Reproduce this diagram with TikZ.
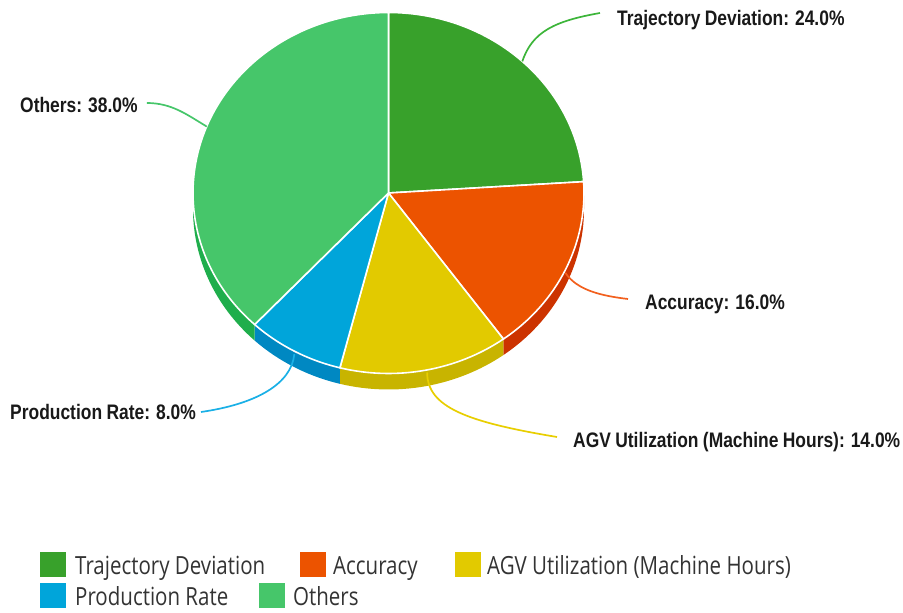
\documentclass[tikz,border=0pt]{standalone}
\usepackage{fontspec}
\usetikzlibrary{calc}
\newfontfamily\lblfont{Liberation Sans Bold}[FakeStretch=0.83,WordSpace=0.9]
\newfontfamily\legfont{Open Sans}[FakeStretch=0.82]

\definecolor{cTD}{HTML}{38A12B}
\definecolor{cAC}{HTML}{EC5300}
\definecolor{cAG}{HTML}{E2CA00}
\definecolor{cPR}{HTML}{00A5DA}
\definecolor{cOT}{HTML}{46C66A}
\definecolor{sAC}{HTML}{CC3300}
\definecolor{sAG}{HTML}{C8B400}
\definecolor{sPR}{HTML}{0088C2}
\definecolor{sOT}{HTML}{1FAE4C}
\definecolor{lTD}{HTML}{3DB53A}
\definecolor{lAC}{HTML}{F2601E}
\definecolor{lAG}{HTML}{E8CE00}
\definecolor{lPR}{HTML}{1AB0E6}
\definecolor{lOT}{HTML}{46C66A}

% pie geometry
\def\cx{388.5}
\def\cy{420}
\def\dep{16}

% side band of a slice between two angles (lower half only)
\newcommand\sidepiece[3]{%
  \fill[#3] (\cx,\cy) ++(#1:195.5pt and 180.5pt)
    arc[start angle=#1,end angle=#2,x radius=195.5pt,y radius=180.5pt]
    -- ++(0,-\dep)
    arc[start angle=#2,end angle=#1,x radius=195.5pt,y radius=180.5pt] -- cycle;}
% top face of a slice
\newcommand\slicetop[3]{%
  \filldraw[topface,fill=#3] (\cx,\cy) -- ++(#1:195.5pt and 180.5pt)
    arc[start angle=#1,end angle=#2,x radius=195.5pt,y radius=180.5pt] -- cycle;}
% point on the rim at a given angle
\newcommand\rimpoint[3]{%
  \path (\cx,\cy) ++(#1:195.5pt and 180.5pt) ++(#2) coordinate (#3);}

\begin{document}
\begin{tikzpicture}[x=1pt,y=1pt,
  lbl/.style={font=\lblfont\fontsize{21}{24}\selectfont,text=black!90,inner sep=0pt},
  leg/.style={font=\legfont\fontsize{25}{28}\selectfont,text=black!80,inner sep=0pt,anchor=base west},
  swatch/.style={minimum width=26pt,minimum height=25pt,inner sep=0pt,anchor=north west},
  leader/.style={line width=1.7pt},
  topface/.style={draw=white,line width=1.6pt,line join=round},
]
\useasboundingbox (0,0) rectangle (903,613);

% extruded sides
\sidepiece{-54}{0}{sAC}
\sidepiece{-104.4}{-54}{sAG}
\sidepiece{-133.2}{-104.4}{sPR}
\sidepiece{-180}{-133.2}{sOT}

% top faces
\slicetop{90}{3.6}{cTD}
\slicetop{3.6}{-54}{cAC}
\slicetop{-54}{-104.4}{cAG}
\slicetop{-104.4}{-133.2}{cPR}
\slicetop{-133.2}{-270}{cOT}

% leader anchors on the rim
\rimpoint{46.8}{0,0}{rimTD}
\rimpoint{-25.2}{0,-3}{rimAC}
\rimpoint{-79.2}{2,-2}{rimAG}
\rimpoint{-118.8}{0,-3}{rimPR}
\rimpoint{158.4}{0,0}{rimOT}

% slice labels
\node[lbl,anchor=base west] (labTD) at (617,587) {Trajectory Deviation: 24.0\%};
\node[lbl,anchor=base west] (labOT) at (20,500) {Others: 38.0\%};
\node[lbl,anchor=base west] (labAC) at (645,303) {Accuracy: 16.0\%};
\node[lbl,anchor=base west] (labAG) at (573,165) {AGV Utilization (Machine Hours): 14.0\%};
\node[lbl,anchor=base west] (labPR) at (10,193) {Production Rate: 8.0\%};

\coordinate (endTD) at ($(labTD.base west)+(-17,13)$);
\coordinate (endOT) at ($(labOT.base east)+(9,10)$);
\coordinate (endAC) at ($(labAC.base west)+(-17,11)$);
\coordinate (endAG) at ($(labAG.base west)+(-16,11)$);
\coordinate (endPR) at ($(labPR.base east)+(5,8)$);

% leader lines
\draw[leader,lTD] (rimTD) .. controls +(10,30) and +(-45,-8) .. (endTD);
\draw[leader,lOT] (rimOT) .. controls +(-20,12) and +(25,0) .. (endOT);
\draw[leader,lAC] (rimAC) .. controls +(12,-18) and +(-25,3) .. (endAC);
\draw[leader,lAG] (rimAG) .. controls +(0,-35) and +(-90,15) .. (endAG);
\draw[leader,lPR] (rimPR) .. controls +(-3,-30) and +(55,8) .. (endPR);

% legend
\node[swatch,fill=cTD] (swTD) at (40,61) {};
\node[leg] (lgTD) at (75,38) {Trajectory Deviation};
\node[swatch,fill=cAC] (swAC) at (300,61) {};
\node[leg] (lgAC) at (333,38) {Accuracy};
\node[swatch,fill=cAG] (swAG) at (455,61) {};
\node[leg] (lgAG) at (487,38) {AGV Utilization (Machine Hours)};
\node[swatch,fill=cPR] (swPR) at (40,30) {};
\node[leg] (lgPR) at (75,7) {Production Rate};
\node[swatch,fill=cOT] (swOT) at (259,30) {};
\node[leg] (lgOT) at (293,7) {Others};
\end{tikzpicture}
\end{document}
